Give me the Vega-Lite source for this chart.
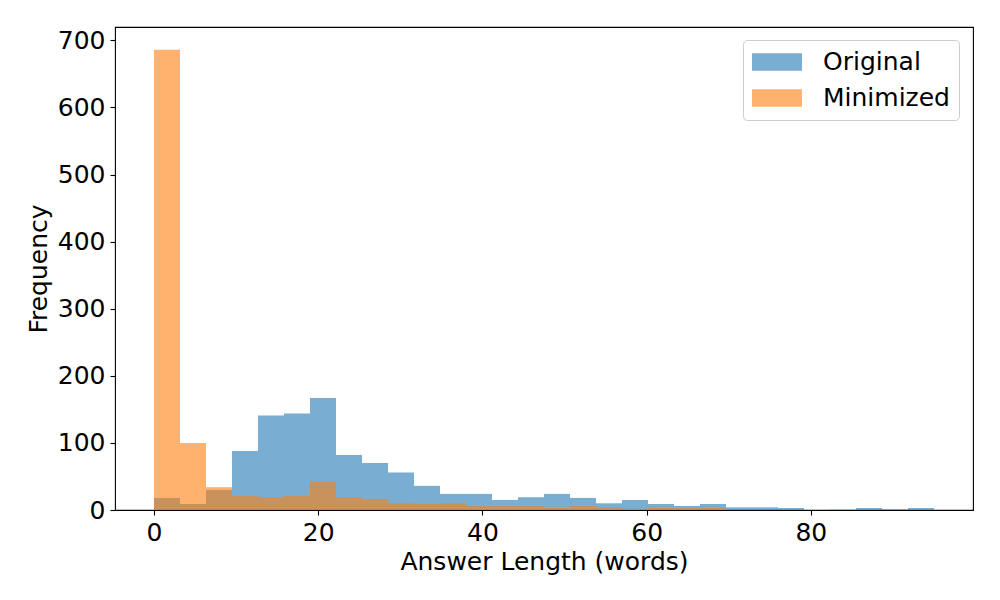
{
  "$schema": "https://vega.github.io/schema/vega-lite/v6.json",
  "width": 858,
  "height": 483,
  "autosize": {"type": "none"},
  "padding": {"left": 115, "top": 27, "right": 27, "bottom": 90},
  "background": "white",
  "config": {
    "font": "DejaVu Sans",
    "view": {"stroke": "black", "strokeWidth": 1.1},
    "axis": {
      "domain": false,
      "grid": false,
      "tickColor": "black",
      "tickSize": 5,
      "tickWidth": 1.1,
      "labelFont": "DejaVu Sans",
      "labelFontSize": 25,
      "labelColor": "black",
      "labelPadding": 5,
      "titleFont": "DejaVu Sans",
      "titleFontSize": 25,
      "titleFontWeight": "normal",
      "titleColor": "black"
    },
    "legend": {
      "labelFont": "DejaVu Sans",
      "labelFontSize": 25,
      "labelColor": "black"
    }
  },
  "data": {
    "values": [
      {"bin_start": 0, "bin_end": 3.1667, "count": 18, "series": "Original"},
      {"bin_start": 3.1667, "bin_end": 6.3333, "count": 9, "series": "Original"},
      {"bin_start": 6.3333, "bin_end": 9.5, "count": 30, "series": "Original"},
      {"bin_start": 9.5, "bin_end": 12.6667, "count": 88, "series": "Original"},
      {"bin_start": 12.6667, "bin_end": 15.8333, "count": 141, "series": "Original"},
      {"bin_start": 15.8333, "bin_end": 19, "count": 144, "series": "Original"},
      {"bin_start": 19, "bin_end": 22.1667, "count": 167, "series": "Original"},
      {"bin_start": 22.1667, "bin_end": 25.3333, "count": 82, "series": "Original"},
      {"bin_start": 25.3333, "bin_end": 28.5, "count": 70, "series": "Original"},
      {"bin_start": 28.5, "bin_end": 31.6667, "count": 56, "series": "Original"},
      {"bin_start": 31.6667, "bin_end": 34.8333, "count": 36, "series": "Original"},
      {"bin_start": 34.8333, "bin_end": 38, "count": 24, "series": "Original"},
      {"bin_start": 38, "bin_end": 41.1667, "count": 24, "series": "Original"},
      {"bin_start": 41.1667, "bin_end": 44.3333, "count": 15, "series": "Original"},
      {"bin_start": 44.3333, "bin_end": 47.5, "count": 19, "series": "Original"},
      {"bin_start": 47.5, "bin_end": 50.6667, "count": 24, "series": "Original"},
      {"bin_start": 50.6667, "bin_end": 53.8333, "count": 18, "series": "Original"},
      {"bin_start": 53.8333, "bin_end": 57, "count": 10, "series": "Original"},
      {"bin_start": 57, "bin_end": 60.1667, "count": 15, "series": "Original"},
      {"bin_start": 60.1667, "bin_end": 63.3333, "count": 9, "series": "Original"},
      {"bin_start": 63.3333, "bin_end": 66.5, "count": 6, "series": "Original"},
      {"bin_start": 66.5, "bin_end": 69.6667, "count": 9, "series": "Original"},
      {"bin_start": 69.6667, "bin_end": 72.8333, "count": 4, "series": "Original"},
      {"bin_start": 72.8333, "bin_end": 76, "count": 4, "series": "Original"},
      {"bin_start": 76, "bin_end": 79.1667, "count": 3, "series": "Original"},
      {"bin_start": 79.1667, "bin_end": 82.3333, "count": 0, "series": "Original"},
      {"bin_start": 82.3333, "bin_end": 85.5, "count": 0, "series": "Original"},
      {"bin_start": 85.5, "bin_end": 88.6667, "count": 3, "series": "Original"},
      {"bin_start": 88.6667, "bin_end": 91.8333, "count": 1, "series": "Original"},
      {"bin_start": 91.8333, "bin_end": 95, "count": 3, "series": "Original"},
      {"bin_start": 0, "bin_end": 3.1667, "count": 686, "series": "Minimized"},
      {"bin_start": 3.1667, "bin_end": 6.3333, "count": 100, "series": "Minimized"},
      {"bin_start": 6.3333, "bin_end": 9.5, "count": 34, "series": "Minimized"},
      {"bin_start": 9.5, "bin_end": 12.6667, "count": 21, "series": "Minimized"},
      {"bin_start": 12.6667, "bin_end": 15.8333, "count": 19, "series": "Minimized"},
      {"bin_start": 15.8333, "bin_end": 19, "count": 21, "series": "Minimized"},
      {"bin_start": 19, "bin_end": 22.1667, "count": 42, "series": "Minimized"},
      {"bin_start": 22.1667, "bin_end": 25.3333, "count": 19, "series": "Minimized"},
      {"bin_start": 25.3333, "bin_end": 28.5, "count": 16, "series": "Minimized"},
      {"bin_start": 28.5, "bin_end": 31.6667, "count": 10, "series": "Minimized"},
      {"bin_start": 31.6667, "bin_end": 34.8333, "count": 9, "series": "Minimized"},
      {"bin_start": 34.8333, "bin_end": 38, "count": 10, "series": "Minimized"},
      {"bin_start": 38, "bin_end": 41.1667, "count": 6, "series": "Minimized"},
      {"bin_start": 41.1667, "bin_end": 44.3333, "count": 6, "series": "Minimized"},
      {"bin_start": 44.3333, "bin_end": 47.5, "count": 6, "series": "Minimized"},
      {"bin_start": 47.5, "bin_end": 50.6667, "count": 3, "series": "Minimized"},
      {"bin_start": 50.6667, "bin_end": 53.8333, "count": 6, "series": "Minimized"},
      {"bin_start": 53.8333, "bin_end": 57, "count": 4, "series": "Minimized"},
      {"bin_start": 57, "bin_end": 60.1667, "count": 2, "series": "Minimized"},
      {"bin_start": 60.1667, "bin_end": 63.3333, "count": 3, "series": "Minimized"},
      {"bin_start": 63.3333, "bin_end": 66.5, "count": 3, "series": "Minimized"},
      {"bin_start": 66.5, "bin_end": 69.6667, "count": 3, "series": "Minimized"},
      {"bin_start": 69.6667, "bin_end": 72.8333, "count": 0, "series": "Minimized"},
      {"bin_start": 72.8333, "bin_end": 76, "count": 0, "series": "Minimized"},
      {"bin_start": 76, "bin_end": 79.1667, "count": 1, "series": "Minimized"},
      {"bin_start": 79.1667, "bin_end": 82.3333, "count": 0, "series": "Minimized"},
      {"bin_start": 82.3333, "bin_end": 85.5, "count": 1, "series": "Minimized"},
      {"bin_start": 85.5, "bin_end": 88.6667, "count": 1, "series": "Minimized"},
      {"bin_start": 88.6667, "bin_end": 91.8333, "count": 0, "series": "Minimized"},
      {"bin_start": 91.8333, "bin_end": 95, "count": 1, "series": "Minimized"}
    ]
  },
  "mark": {"type": "bar", "opacity": 0.6, "cornerRadius": 0},
  "encoding": {
    "x": {
      "field": "bin_start",
      "type": "quantitative",
      "scale": {"domain": [-4.75, 99.75], "nice": false, "zero": false},
      "axis": {"values": [0, 20, 40, 60, 80], "title": "Answer Length (words)", "titlePadding": 4}
    },
    "x2": {"field": "bin_end"},
    "y": {
      "field": "count",
      "type": "quantitative",
      "stack": null,
      "scale": {"domain": [0, 720], "nice": false},
      "axis": {"values": [0, 100, 200, 300, 400, 500, 600, 700], "title": "Frequency", "titlePadding": 6}
    },
    "y2": {"datum": 0},
    "color": {
      "field": "series",
      "type": "nominal",
      "sort": ["Original", "Minimized"],
      "scale": {"domain": ["Original", "Minimized"], "range": ["#1f77b4", "#ff7f0e"]},
      "legend": {
        "title": null,
        "orient": "none",
        "legendX": 628,
        "legendY": 13,
        "symbolType": "M-1.923,-0.673L1.923,-0.673L1.923,0.673L-1.923,0.673Z",
        "symbolSize": 676,
        "symbolOpacity": 0.6,
        "symbolStrokeWidth": 0,
        "symbolOffset": 12,
        "labelOffset": 33,
        "rowPadding": 10,
        "padding": 9,
        "strokeColor": "#cccccc",
        "fillColor": "white",
        "cornerRadius": 4
      }
    }
  }
}
